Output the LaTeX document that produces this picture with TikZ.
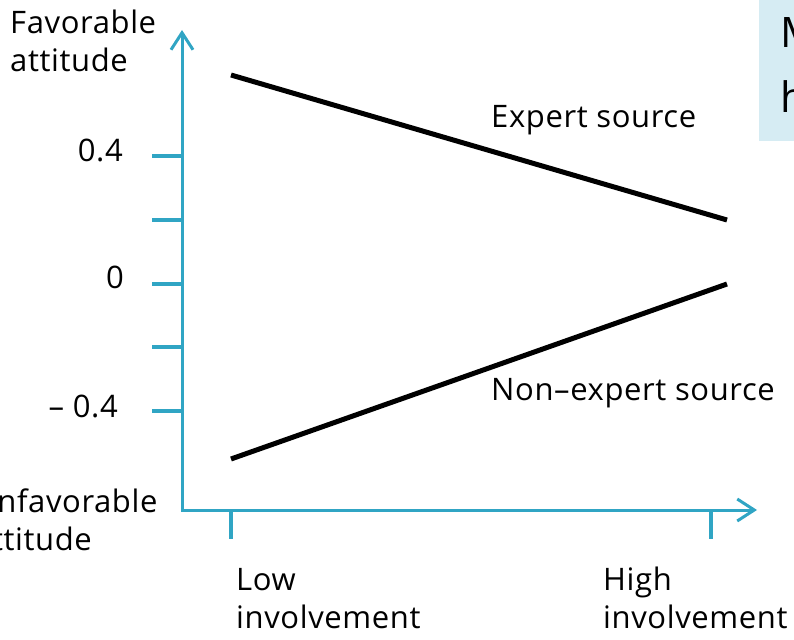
\documentclass[tikz,border=0pt]{standalone}
\usepackage{fontspec}
\setmainfont{Open Sans}[LetterSpace=2]
\usetikzlibrary{arrows.meta}
\definecolor{axisblue}{RGB}{48,165,196}
\definecolor{boxblue}{RGB}{214,236,243}

\begin{document}
\begin{tikzpicture}[x=1pt, y=-1pt,
    axis/.style={axisblue, line width=3pt},
    tick/.style={axisblue, line width=4pt},
    curve/.style={black, line width=5pt},
    lbl/.style={inner sep=0pt, anchor=base west, align=left, font=\fontsize{31}{38}\selectfont},
    num/.style={inner sep=0pt, anchor=base east, font=\fontsize{31}{38}\selectfont}]
  \useasboundingbox (0,0) rectangle (794,639);
  % box in the upper right corner
  \fill[boxblue] (759,-5) rectangle (800,141);
  \node[lbl, font=\fontsize{42}{65}\selectfont] (boxtext) at (780,113) {M\\h};
  % axes
  \coordinate (O) at (182,510);
  \coordinate (ytop) at (182,30);
  \coordinate (xend) at (757,510);
  \draw[axis, {Straight Barb[length=17pt,width=22pt]}-{Straight Barb[length=17pt,width=22pt]}] (ytop) -- (O) -- (xend);
  \foreach \y in {156,220,284,347,411}
    \draw[tick] (152,\y) -- (182,\y);
  \foreach \x in {231,711}
    \draw[tick] (\x,510) -- (\x,539);
  % axis labels
  \node[lbl] (fav) at (10,72) {Favorable\\attitude};
  \node[lbl] (unfav) at (-26,550) {Unfavorable\\attitude};
  \node[num] (p4) at (123,162) {0.4};
  \node[num] (zero) at (124,288) {0};
  \node[num] (m4) at (118,417) {– 0.4};
  \node[lbl] (low) at (236,628) {Low\\involvement};
  \node[lbl] (high) at (603,628) {High\\involvement};
  % the two sources
  \coordinate (e1) at (231,75);
  \coordinate (e2) at (727,220);
  \coordinate (n1) at (231,459);
  \coordinate (n2) at (727,284);
  \draw[curve] (e1) -- (e2);
  \draw[curve] (n1) -- (n2);
  \node[lbl] (expert) at (491,128) {Expert source};
  \node[lbl] (nonexpert) at (491,400) {Non–expert source};
\end{tikzpicture}
\end{document}
